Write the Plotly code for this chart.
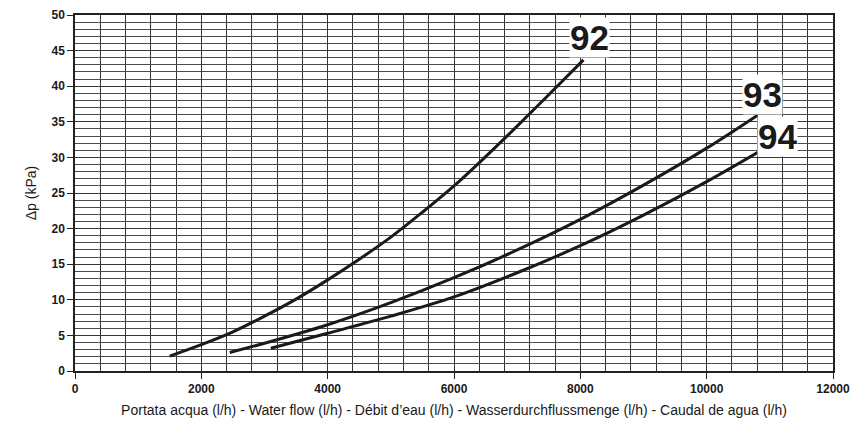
import plotly.graph_objects as go

# Courbes de perte de charge (débit l/h -> Δp kPa)
Q_92 = [1500, 2000, 2500, 3000, 3500, 4000, 4500, 5000, 5500, 6000, 6500, 7000, 7500, 8050]
DP_92 = [2.1, 3.7, 5.5, 7.7, 10.1, 12.8, 15.7, 18.8, 22.3, 26.0, 30.1, 34.4, 38.8, 43.7]

Q_93 = [2450, 3000, 4000, 5000, 6000, 7000, 8000, 9000, 10000, 10800]
DP_93 = [2.6, 3.9, 6.5, 9.6, 13.1, 17.0, 21.3, 26.1, 31.3, 35.9]

Q_94 = [3100, 4000, 5000, 6000, 7000, 8000, 9000, 10000, 11000]
DP_94 = [3.2, 5.3, 7.7, 10.4, 13.8, 17.6, 21.9, 26.6, 31.7]

# étiquettes des courbes : (texte, x, y)
LABELS = [("92", 8150, 46.9), ("93", 10890, 38.8), ("94", 11120, 32.9)]

X_TICKS = [0, 2000, 4000, 6000, 8000, 10000, 12000]
Y_TICKS = [0, 5, 10, 15, 20, 25, 30, 35, 40, 45, 50]

_INK = "#1a1a1a"
_GRID = "#363636"
_FONT = "Liberation Sans, Arial, sans-serif"

fig = go.Figure()

for q, dp in [(Q_92, DP_92), (Q_93, DP_93), (Q_94, DP_94)]:
    fig.add_trace(go.Scatter(
        x=q, y=dp, mode="lines",
        line=dict(color=_INK, width=3, shape="spline", smoothing=1),
        showlegend=False,
    ))

for txt, x, y in LABELS:
    fig.add_annotation(
        x=x, y=y, text="<b>%s</b>" % txt, showarrow=False,
        font=dict(size=35, color=_INK, family=_FONT),
        bgcolor="white", borderpad=0,
    )

axis_common = dict(
    showline=True, mirror=True, linecolor="#222", linewidth=1.5,
    showgrid=True, gridcolor=_GRID, gridwidth=1,
    ticks="outside", ticklen=6, tickcolor="#222",
    tickfont=dict(size=12, color=_INK, family=_FONT, weight="bold"),
    zeroline=False, automargin=False,
)

# la page ajoute une marge de 8 px autour du graphique
fig.update_layout(
    width=857, height=417,
    margin=dict(l=67, r=32, t=7, b=54),
    paper_bgcolor="white", plot_bgcolor="white",
    xaxis=dict(
        range=[0, 12000], tickvals=X_TICKS, ticktext=[str(v) for v in X_TICKS],
        minor=dict(dtick=400, showgrid=True, gridcolor=_GRID, gridwidth=1),
        title=dict(
            text="Portata acqua (l/h) - Water flow (l/h) - Débit d’eau (l/h) - "
                 "Wasserdurchflussmenge (l/h) - Caudal de agua (l/h)",
            font=dict(size=14, color=_INK, family=_FONT), standoff=10,
        ),
        **axis_common,
    ),
    yaxis=dict(
        range=[0, 50], tickvals=Y_TICKS, ticktext=[str(v) for v in Y_TICKS],
        minor=dict(dtick=1, showgrid=True, gridcolor="#4a4a4a", gridwidth=1),
        title=dict(
            text="Δp (kPa)",
            font=dict(size=14, color=_INK, family=_FONT), standoff=12,
        ),
        **axis_common,
    ),
)

fig.write_html("out.html")
